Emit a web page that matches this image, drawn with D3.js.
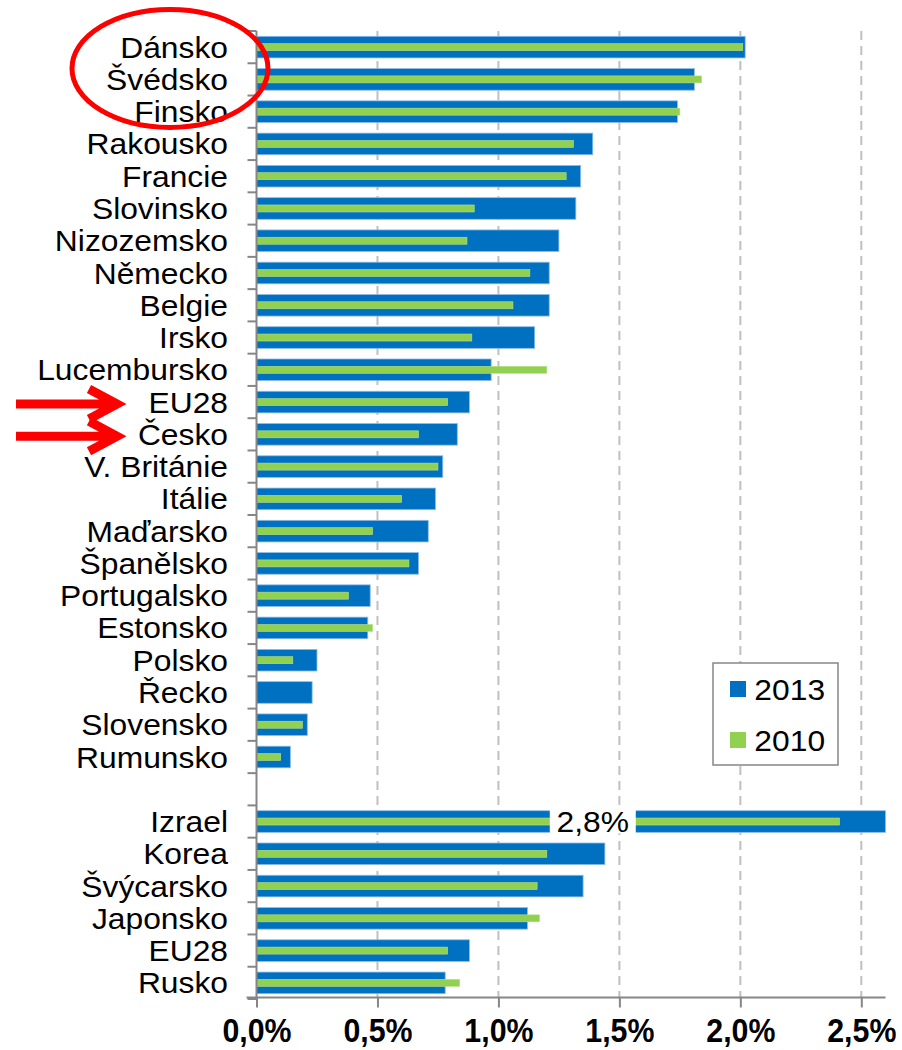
<!DOCTYPE html>
<html>
<head>
<meta charset="utf-8">
<script src="https://cdn.jsdelivr.net/npm/d3@7"></script>
<style>
  body { margin: 0; background: #fff; }
  svg { display: block; font-family: "Liberation Sans", Arial, sans-serif; }
</style>
</head>
<body>
<svg id="chart" width="902" height="1050"></svg>
<script>
// categories top -> bottom, "" is the empty spacer row
var countries = ["Dánsko","Švédsko","Finsko","Rakousko","Francie","Slovinsko","Nizozemsko",
  "Německo","Belgie","Irsko","Lucembursko","EU28","Česko","V. Británie","Itálie","Maďarsko",
  "Španělsko","Portugalsko","Estonsko","Polsko","Řecko","Slovensko","Rumunsko","",
  "Izrael","Korea","Švýcarsko","Japonsko","EU28","Rusko"];
// expenditure in % of GDP
var v2013 = [2.02,1.81,1.74,1.39,1.34,1.32,1.25,1.21,1.21,1.15,0.97,0.88,0.83,0.77,0.74,0.71,
  0.67,0.47,0.46,0.25,0.23,0.21,0.14,null,2.8,1.44,1.35,1.12,0.88,0.78];
var v2010 = [2.01,1.84,1.75,1.31,1.28,0.90,0.87,1.13,1.06,0.89,1.20,0.79,0.67,0.75,0.60,0.48,
  0.63,0.38,0.48,0.15,null,0.19,0.10,null,2.41,1.20,1.16,1.17,0.79,0.84];
var xTicks = [0, 0.5, 1.0, 1.5, 2.0, 2.5];
var series = ["2013", "2010"];
var overflowLabel = "2,8%";   // Izrael runs off the axis
var marked = ["EU28", "Česko"]; // rows with red arrows

var blue = "#0070c0", green = "#92d050", grid = "#c0c0c0", axisCol = "#868686",
    xMax = 2.6,
    sx = 1.06; // text in the original is a bit wider than the font

var svg = d3.select("#chart");

var rows = countries.map(function(c, i) {
  return { id: i, name: c, a: v2013[i], b: v2010[i] };
});

var x = d3.scaleLinear().domain([0, xMax]).range([256.5, 885.5]);
var y = d3.scaleBand().domain(rows.map(function(d) { return d.id; }))
    .range([31, 999]).paddingInner(0).paddingOuter(0);
var bw = y.bandwidth();
var yc = function(i) { return y(i) + bw / 2; };

// dashed gridlines
svg.append("g").selectAll("line.grid")
    .data(xTicks.slice(1))
  .enter().append("line")
    .attr("class", "grid")
    .attr("x1", x).attr("x2", x)
    .attr("y1", 31).attr("y2", 997)
    .style("stroke", grid).style("stroke-width", 2)
    .style("stroke-dasharray", "9,6");

var real = rows.filter(function(d) { return d.name !== ""; });

// 2013 wide bars
svg.append("g").selectAll("rect.b13")
    .data(real.filter(function(d) { return d.a != null; }))
  .enter().append("rect")
    .attr("class", "b13")
    .attr("x", x(0))
    .attr("y", function(d) { return yc(d.id) - bw * 0.335; })
    .attr("width", function(d) { return x(Math.min(d.a, xMax)) - x(0); })
    .attr("height", bw * 0.67)
    .style("fill", blue).style("stroke", "#8fbce6").style("stroke-width", 0.8);

// 2010 thin bars
svg.append("g").selectAll("rect.b10")
    .data(real.filter(function(d) { return d.b != null; }))
  .enter().append("rect")
    .attr("class", "b10")
    .attr("x", x(0))
    .attr("y", function(d) { return yc(d.id) - 3.5; })
    .attr("width", function(d) { return x(Math.min(d.b, xMax)) - x(0); })
    .attr("height", 7)
    .style("fill", green).style("stroke", "#b6e08a").style("stroke-width", 0.6);

// label for the bar that overflows the axis
var over = real.filter(function(d) { return d.a > xMax; })[0];
var ol = svg.append("g").attr("transform", "translate(" + x(1.39) + "," + yc(over.id) + ")");
ol.append("rect").attr("x", -43).attr("y", -bw * 0.335 - 1).attr("width", 86).attr("height", bw * 0.67 + 2)
    .style("fill", "#fff");
ol.append("text").attr("text-anchor", "middle").attr("y", 10.5)
    .attr("transform", "scale(" + sx + ",1)")
    .style("font-size", "30px").style("fill", "#000")
    .text(overflowLabel);

// y axis line + ticks on category boundaries
svg.append("line").attr("x1", x(0)).attr("x2", x(0)).attr("y1", 31).attr("y2", 998)
    .style("stroke", axisCol).style("stroke-width", 2);
svg.append("g").selectAll("line.yt")
    .data(d3.range(rows.length + 1))
  .enter().append("line")
    .attr("x1", x(0) - 9).attr("x2", x(0))
    .attr("y1", function(i) { return 31 + i * y.step(); })
    .attr("y2", function(i) { return 31 + i * y.step(); })
    .style("stroke", axisCol).style("stroke-width", 2);

// category labels
svg.append("g").selectAll("text.cat")
    .data(real)
  .enter().append("text")
    .attr("class", "cat")
    .attr("text-anchor", "end")
    .attr("transform", function(d) { return "translate(228," + (yc(d.id) + 10.5) + ") scale(" + sx + ",1)"; })
    .style("font-size", "30px").style("fill", "#000")
    .text(function(d) { return d.name; });

// x axis
var fmt = function(v) { return v.toFixed(1).replace(".", ",") + "%"; };
var xa = svg.append("g").attr("transform", "translate(0,997.5)")
    .call(d3.axisBottom(x).tickValues(xTicks).tickFormat(fmt).tickSize(10).tickSizeOuter(0));
xa.select(".domain").attr("d", "M" + (x(0) - 10) + ",0H" + x(xMax))
    .style("stroke", axisCol).style("stroke-width", 2);
xa.selectAll(".tick line").style("stroke", axisCol).style("stroke-width", 2);
xa.selectAll(".tick text")
    .attr("y", 45).attr("dy", null)
    .attr("transform", "scale(0.92,1)")
    .style("font-size", "33px").style("font-weight", "bold")
    .style("font-family", "'Liberation Sans', Arial, sans-serif").style("fill", "#000");

// legend
var lg = svg.append("g").attr("transform", "translate(713,663)");
lg.append("rect").attr("width", 125).attr("height", 102)
    .style("fill", "#fff").style("stroke", axisCol).style("stroke-width", 1.5);
var li = lg.selectAll("g.li").data(series)
  .enter().append("g")
    .attr("transform", function(d, i) { return "translate(17," + (18 + i * 51) + ")"; });
li.append("rect").attr("width", 16).attr("height", 16)
    .style("fill", function(d, i) { return i ? green : blue; });
li.append("text").attr("x", 23).attr("y", 18.5)
    .attr("transform", "scale(" + sx + ",1)")
    .style("font-size", "30px").style("fill", "#000")
    .text(function(d) { return d; });

// red highlight: ellipse round top three, arrows at EU28 and Česko
var red = "#ff0000";
svg.append("ellipse")
    .attr("cx", 170).attr("cy", (yc(0) + yc(2)) / 2 - 11)
    .attr("rx", 98).attr("ry", 59)
    .style("fill", "none").style("stroke", red).style("stroke-width", 5);

var arrowRows = real.filter(function(d) { return marked.indexOf(d.name) >= 0 && d.id < 23; });
var ar = svg.append("g").selectAll("g.arrow")
    .data(arrowRows)
  .enter().append("g")
    .attr("transform", function(d) { return "translate(0," + (yc(d.id) + 2) + ")"; });
ar.append("path")
    .attr("d", "M16,0H112M89,-15L117,0L89,15")
    .style("fill", "none").style("stroke", red).style("stroke-width", 9)
    .style("stroke-linejoin", "miter");
</script>
</body>
</html>
